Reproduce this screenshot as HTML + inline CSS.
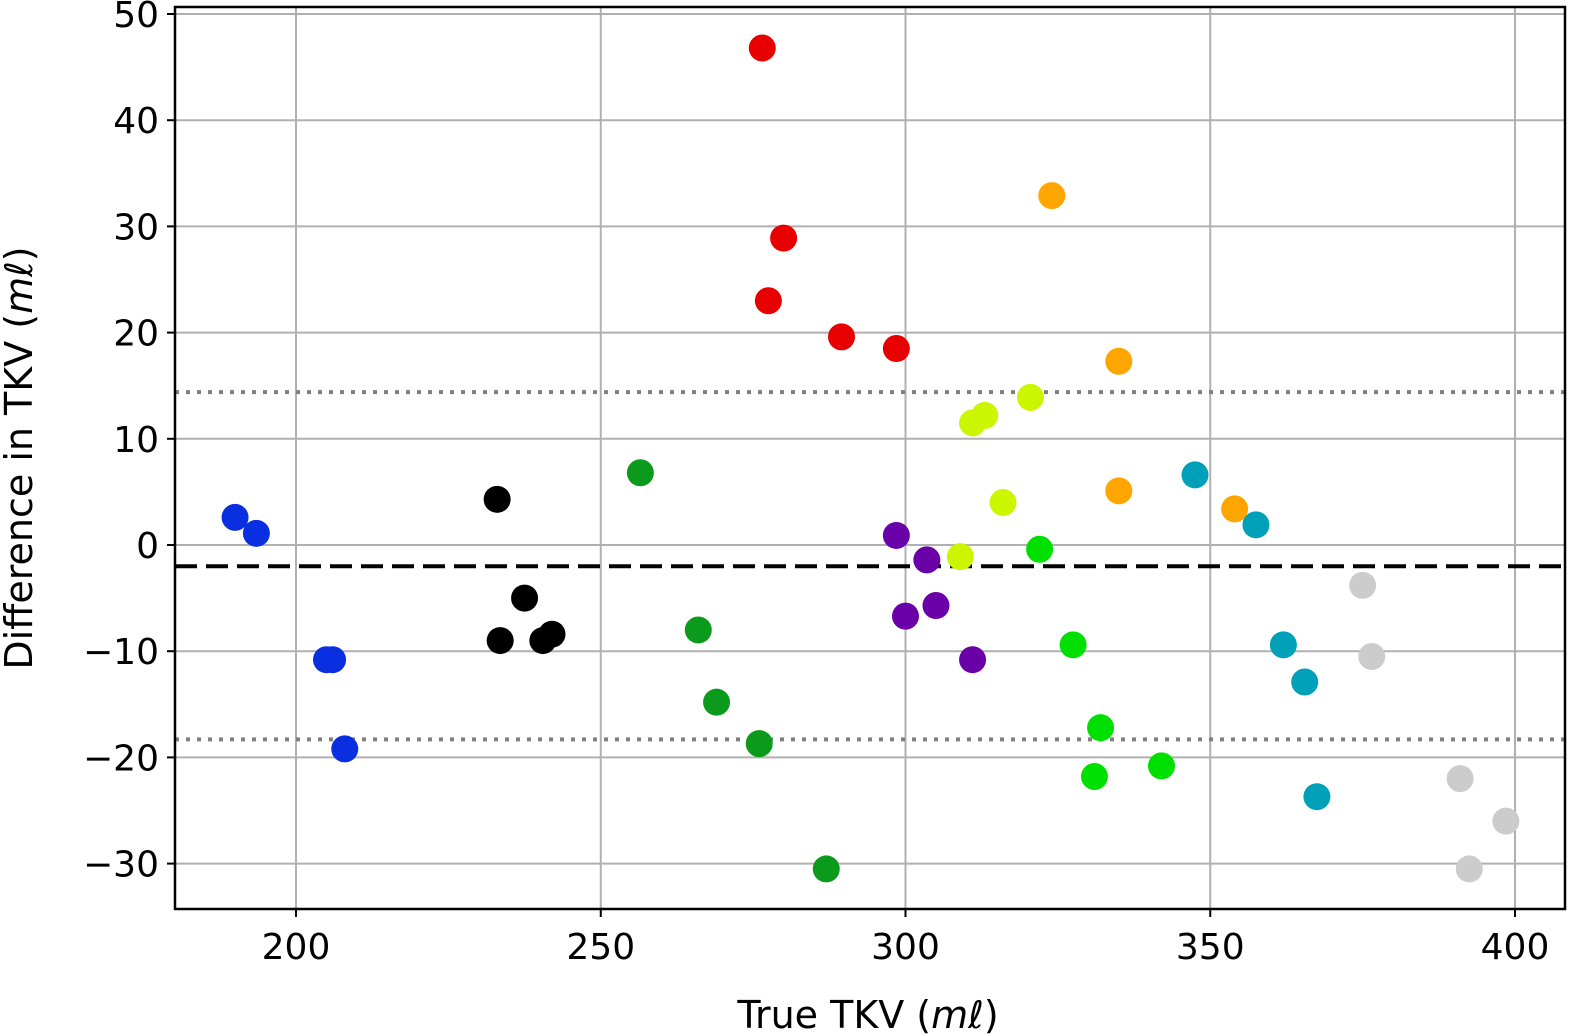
<!DOCTYPE html>
<html><head><meta charset="utf-8"><style>
body{margin:0;background:#fff}
svg{display:block;font-family:"DejaVu Sans","Liberation Sans",sans-serif}
</style></head><body>
<svg id="c" width="1572" height="1035"></svg>
<script>
const xTicks=[200,250,300,350,400];
const yTicks=[-30,-20,-10,0,10,20,30,40,50];
const groupColors=["#0a2fe0","#000000","#0b9a1c","#e80000","#6a00a8","#ccf500","#00e000","#ffa500","#00a0b8","#cccccc"];
const groupX=[
[190,193.5,205,206,208],
[233,233.5,237.5,240.5,242],
[256.5,266,269,276,287],
[276.5,280,277.5,289.5,298.5],
[298.5,300,303.5,305,311],
[309,311,313,316,320.5],
[322,327.5,331,332,342],
[324,335,335,354],
[347.5,357.5,362,365.5,367.5],
[375,376.5,391,392.5,398.5]];
const groupY=[
[2.6,1.1,-10.8,-10.8,-19.2],
[4.3,-9,-5,-9,-8.4],
[6.8,-8,-14.8,-18.7,-30.5],
[46.8,28.9,23,19.6,18.5],
[0.9,-6.7,-1.4,-5.7,-10.8],
[-1.1,11.5,12.2,4,13.9],
[-0.4,-9.4,-21.8,-17.2,-20.8],
[32.9,17.3,5.1,3.4],
[6.6,1.9,-9.4,-12.9,-23.7],
[-3.8,-10.5,-22,-30.5,-26]];
const meanDiff=[-2];
const limits=[14.4,-18.3];

const L=175,R=1565,T=7,B=909;
const X=v=>296+(v-200)*6.095;
const Y=v=>545-(v)*10.62;
const NS="http://www.w3.org/2000/svg";
const svg=document.getElementById('c');
function mk(t,a,p){const e=document.createElementNS(NS,t);for(const k in a)e.setAttribute(k,a[k]);(p||svg).appendChild(e);return e;}
const grid=mk('g',{});


xTicks.forEach(v=>{
 mk('line',{x1:X(v),x2:X(v),y1:T,y2:B,stroke:'#b0b0b0','stroke-width':2},grid);
 mk('line',{x1:X(v),x2:X(v),y1:B,y2:B+8,stroke:'#000','stroke-width':2});
 const t=mk('text',{x:X(v),y:B+50,'font-size':36,'text-anchor':'middle'});t.textContent=v;
 
 
});
yTicks.forEach(v=>{
 mk('line',{x1:L,x2:R,y1:Y(v),y2:Y(v),stroke:'#b0b0b0','stroke-width':2},grid);
 mk('line',{x1:L-8,x2:L,y1:Y(v),y2:Y(v),stroke:'#000','stroke-width':2});
 const t=mk('text',{x:L-16,y:Y(v)+13,'font-size':36,'text-anchor':'end'});t.textContent=(v<0?'\u2212'+(-v):v);
 
 
});
limits.forEach(v=>{
 const l=mk('line',{x1:L,x2:R,y1:Y(v),y2:Y(v),stroke:'#808080','stroke-width':4,'stroke-dasharray':'4 7'});
 
 
});
const m=mk('line',{x1:L,x2:R,y1:Y(meanDiff[0]),y2:Y(meanDiff[0]),stroke:'#000','stroke-width':4,'stroke-dasharray':'22 9'});


groupX.forEach((xs,g)=>xs.forEach((x,i)=>{
 const c=mk('circle',{cx:X(x),cy:Y(groupY[g][i]),r:13.5,fill:groupColors[g]});
 
 
}));
const f=mk('rect',{x:L,y:T,width:R-L,height:B-T,fill:'none',stroke:'#000','stroke-width':2.5});


const xt=mk('text',{x:868,y:1028,'font-size':38,'text-anchor':'middle'});
xt.innerHTML='True TKV (<tspan font-style="italic">mℓ</tspan>)';


const yt=mk('text',{x:0,y:0,'font-size':38,'text-anchor':'middle',transform:'translate(32,458) rotate(-90)'});
yt.innerHTML='Difference in TKV (<tspan font-style="italic">mℓ</tspan>)';


</script>
</body></html>
